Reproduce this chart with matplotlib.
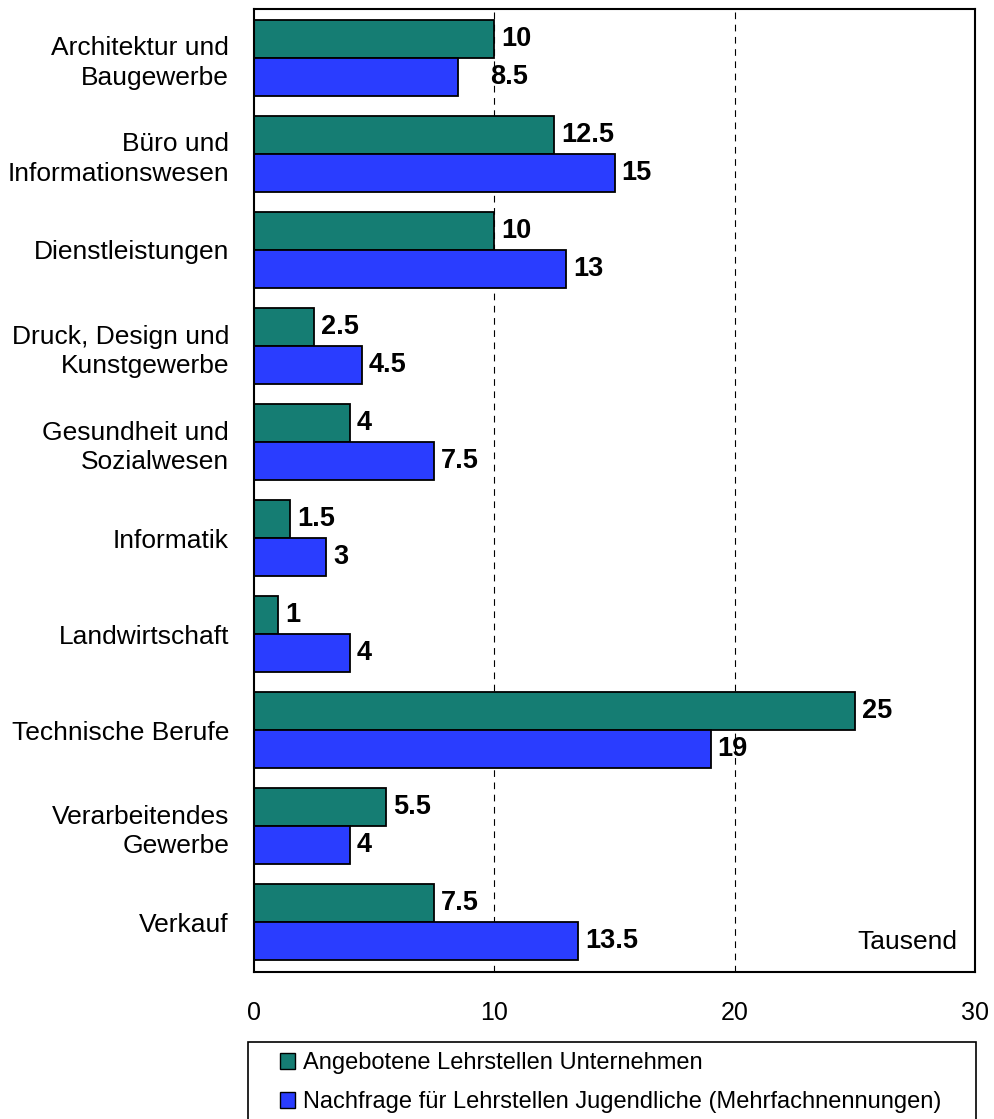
import matplotlib.pyplot as plt
import numpy as np
from matplotlib.patches import Patch, Rectangle

plt.rcParams.update({
    "font.family": ["Liberation Sans", "DejaVu Sans"],
    "font.size": 19,
})

GREEN = "#157D73"
BLUE = "#2A3DFF"

# Data
categories = [
    "Architektur und\nBaugewerbe",
    "Büro und\nInformationswesen",
    "Dienstleistungen",
    "Druck, Design und\nKunstgewerbe",
    "Gesundheit und\nSozialwesen",
    "Informatik",
    "Landwirtschaft",
    "Technische Berufe",
    "Verarbeitendes\nGewerbe",
    "Verkauf",
]
angebot = [10, 12.5, 10, 2.5, 4, 1.5, 1, 25, 5.5, 7.5]
nachfrage = [8.5, 15, 13, 4.5, 7.5, 3, 4, 19, 4, 13.5]
labels = ["Angebotene Lehrstellen Unternehmen",
          "Nachfrage für Lehrstellen Jugendliche (Mehrfachnennungen)"]

W, H = 994, 1119
fig = plt.figure(figsize=(W / 100, H / 100), dpi=100)
ax = fig.add_axes([254 / W, 1 - 972 / H, (975 - 254) / W, (972 - 9) / H])

y = np.arange(len(categories))
h = 0.396

b1 = ax.barh(y - h / 2, angebot, height=h, color=GREEN, edgecolor="black", linewidth=1.3)
b2 = ax.barh(y + h / 2, nachfrage, height=h, color=BLUE, edgecolor="black", linewidth=1.3)

for s_idx, (bars, vals) in enumerate([(b1, angebot), (b2, nachfrage)]):
    for i, (bar, v) in enumerate(zip(bars, vals)):
        dx = 5
        if s_idx == 1 and i == 0:
            dx = 23  # this label sits further right in the original
        ax.annotate(f"{v:g}", (v, bar.get_y() + bar.get_height() / 2),
                    xytext=(dx, 0), textcoords="offset points",
                    va="center", ha="left", fontsize=19.5, fontweight="bold")

for gx in [10, 20]:
    ax.axvline(gx, color="black", linestyle=(0, (6, 5)), linewidth=0.8, zorder=0)

ax.set_xlim(0, 30)
ax.set_ylim(len(categories) - 0.48, -0.51)
ax.set_xticks([0, 10, 20, 30])
ax.set_xticklabels(["0", "10", "20", "30"], fontsize=18)
ax.tick_params(axis="x", length=0, pad=21)
ax.set_yticks(y)
ax.set_yticklabels(categories, fontsize=19, linespacing=1.27)
ax.tick_params(axis="y", length=0, pad=18)
for s in ax.spines.values():
    s.set_linewidth(1.5)

ax.text(0.975, 0.031, "Tausend", transform=ax.transAxes, ha="right", va="center",
        fontsize=19)

# legend box (cut by the bottom edge of the figure, as in the original)
fig.patches.append(Rectangle((248 / W, 1 - 1130 / H), (976 - 248) / W, (1130 - 1042) / H,
                             transform=fig.transFigure, facecolor="white",
                             edgecolor="black", linewidth=1.2))
handles = [Patch(facecolor=GREEN, edgecolor="black"),
           Patch(facecolor=BLUE, edgecolor="black")]
leg = fig.legend(handles, labels, loc="upper left",
                 bbox_to_anchor=(280 / W, 1 - 1052 / H),
                 borderaxespad=0, borderpad=0, frameon=False,
                 handlelength=0.64, handleheight=0.64,
                 handletextpad=0.34, labelspacing=0.72,
                 prop={"size": 17})

fig.savefig("out.png", dpi=100)
